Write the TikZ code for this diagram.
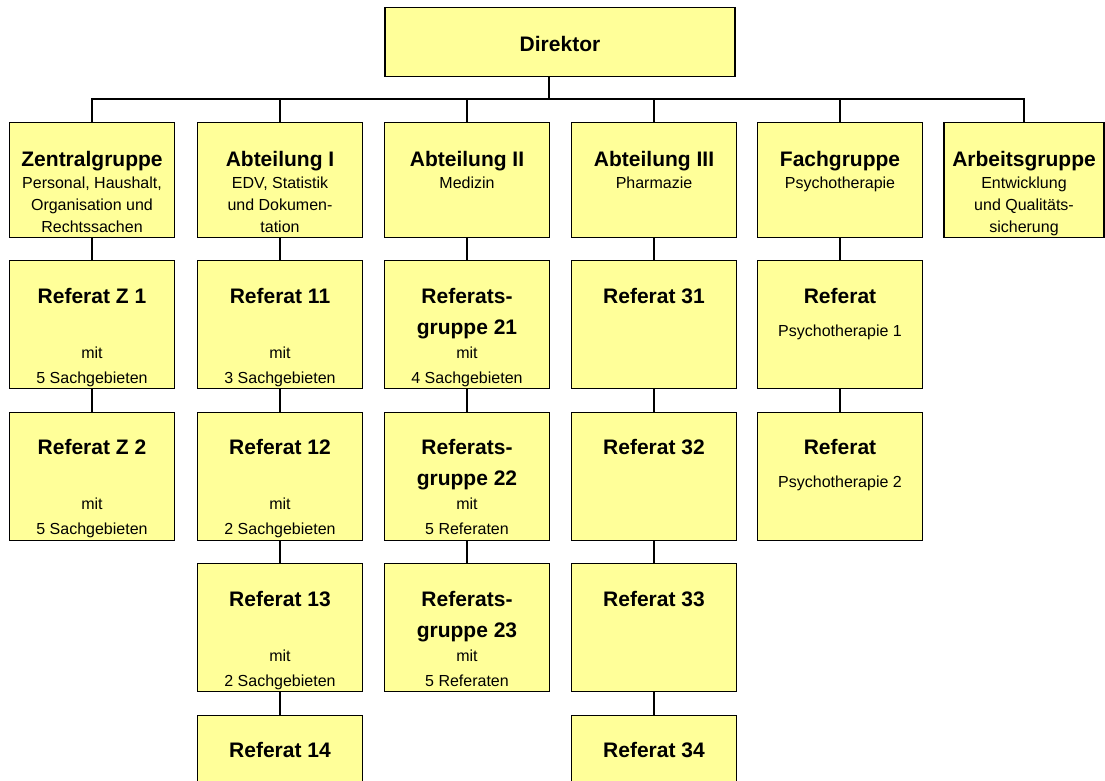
\documentclass[tikz,border=0pt]{standalone}
\usepackage{fontspec}
\setmainfont{Liberation Sans}
\definecolor{gelb}{RGB}{255,255,153}

\begin{document}
\begin{tikzpicture}[x=1pt,y=-1pt,
    unit/.style={draw=black, fill=gelb, line width=1.4pt, inner sep=0pt, anchor=north, minimum width=165pt, minimum height=128pt},
    topunit/.style={unit, minimum height=115pt},
    head/.style={font=\bfseries\fontsize{21}{24}\selectfont, anchor=base, inner sep=0pt},
    sub/.style={font=\fontsize{16}{18}\selectfont, anchor=base, inner sep=0pt},
    conn/.style={black, line width=1.4pt}]
    \useasboundingbox (0,0) rectangle (1105,780);
    \clip (0,0) rectangle (1105,780);

    % Leitung
    \node[unit, minimum width=350pt, minimum height=69pt] (dir) at (560,7) {};
    \node[head] (dir-1) at ([yshift=-44]dir.north) {Direktor};

    % erste Ebene
    \node[topunit] (zg) at (92,122) {};
    \node[head] (zg-1) at ([yshift=-44]zg.north) {Zentralgruppe};
    \node[sub] (zg-2) at ([yshift=-66]zg.north) {Personal, Haushalt,};
    \node[sub] (zg-3) at ([yshift=-88]zg.north) {Organisation und};
    \node[sub] (zg-4) at ([yshift=-110]zg.north) {Rechtssachen};

    \node[topunit] (a1) at (280,122) {};
    \node[head] (a1-1) at ([yshift=-44]a1.north) {Abteilung I};
    \node[sub] (a1-2) at ([yshift=-66]a1.north) {EDV, Statistik};
    \node[sub] (a1-3) at ([yshift=-88]a1.north) {und Dokumen-};
    \node[sub] (a1-4) at ([yshift=-110]a1.north) {tation};

    \node[topunit] (a2) at (467,122) {};
    \node[head] (a2-1) at ([yshift=-44]a2.north) {Abteilung II};
    \node[sub] (a2-2) at ([yshift=-66]a2.north) {Medizin};

    \node[topunit] (a3) at (654,122) {};
    \node[head] (a3-1) at ([yshift=-44]a3.north) {Abteilung III};
    \node[sub] (a3-2) at ([yshift=-66]a3.north) {Pharmazie};

    \node[topunit] (fg) at (840,122) {};
    \node[head] (fg-1) at ([yshift=-44]fg.north) {Fachgruppe};
    \node[sub] (fg-2) at ([yshift=-66]fg.north) {Psychotherapie};

    \node[topunit, minimum width=160pt] (ag) at (1024,122) {};
    \node[head] (ag-1) at ([yshift=-44]ag.north) {Arbeitsgruppe};
    \node[sub] (ag-2) at ([yshift=-66]ag.north) {Entwicklung};
    \node[sub] (ag-3) at ([yshift=-88]ag.north) {und Qualitäts-};
    \node[sub] (ag-4) at ([yshift=-110]ag.north) {sicherung};

    % Zentralgruppe
    \node[unit] (z1) at (92,260) {};
    \node[head] (z1-1) at ([yshift=-43]z1.north) {Referat Z 1};
    \node[sub] (z1-2) at ([yshift=-98]z1.north) {mit};
    \node[sub] (z1-3) at ([yshift=-123]z1.north) {5 Sachgebieten};

    \node[unit] (z2) at (92,411.5) {};
    \node[head] (z2-1) at ([yshift=-43]z2.north) {Referat Z 2};
    \node[sub] (z2-2) at ([yshift=-98]z2.north) {mit};
    \node[sub] (z2-3) at ([yshift=-123]z2.north) {5 Sachgebieten};

    % Abteilung I
    \node[unit] (r11) at (280,260) {};
    \node[head] (r11-1) at ([yshift=-43]r11.north) {Referat 11};
    \node[sub] (r11-2) at ([yshift=-98]r11.north) {mit};
    \node[sub] (r11-3) at ([yshift=-123]r11.north) {3 Sachgebieten};

    \node[unit] (r12) at (280,411.5) {};
    \node[head] (r12-1) at ([yshift=-43]r12.north) {Referat 12};
    \node[sub] (r12-2) at ([yshift=-98]r12.north) {mit};
    \node[sub] (r12-3) at ([yshift=-123]r12.north) {2 Sachgebieten};

    \node[unit] (r13) at (280,563) {};
    \node[head] (r13-1) at ([yshift=-43]r13.north) {Referat 13};
    \node[sub] (r13-2) at ([yshift=-98]r13.north) {mit};
    \node[sub] (r13-3) at ([yshift=-123]r13.north) {2 Sachgebieten};

    \node[unit] (r14) at (280,714.5) {};
    \node[head] (r14-1) at ([yshift=-43]r14.north) {Referat 14};

    % Abteilung II
    \node[unit] (rg21) at (467,260) {};
    \node[head] (rg21-1) at ([yshift=-43]rg21.north) {Referats-};
    \node[head] (rg21-2) at ([yshift=-74]rg21.north) {gruppe 21};
    \node[sub] (rg21-3) at ([yshift=-98]rg21.north) {mit};
    \node[sub] (rg21-4) at ([yshift=-123]rg21.north) {4 Sachgebieten};

    \node[unit] (rg22) at (467,411.5) {};
    \node[head] (rg22-1) at ([yshift=-43]rg22.north) {Referats-};
    \node[head] (rg22-2) at ([yshift=-74]rg22.north) {gruppe 22};
    \node[sub] (rg22-3) at ([yshift=-98]rg22.north) {mit};
    \node[sub] (rg22-4) at ([yshift=-123]rg22.north) {5 Referaten};

    \node[unit] (rg23) at (467,563) {};
    \node[head] (rg23-1) at ([yshift=-43]rg23.north) {Referats-};
    \node[head] (rg23-2) at ([yshift=-74]rg23.north) {gruppe 23};
    \node[sub] (rg23-3) at ([yshift=-98]rg23.north) {mit};
    \node[sub] (rg23-4) at ([yshift=-123]rg23.north) {5 Referaten};

    % Abteilung III
    \node[unit] (r31) at (654,260) {};
    \node[head] (r31-1) at ([yshift=-43]r31.north) {Referat 31};
    \node[unit] (r32) at (654,411.5) {};
    \node[head] (r32-1) at ([yshift=-43]r32.north) {Referat 32};
    \node[unit] (r33) at (654,563) {};
    \node[head] (r33-1) at ([yshift=-43]r33.north) {Referat 33};
    \node[unit] (r34) at (654,714.5) {};
    \node[head] (r34-1) at ([yshift=-43]r34.north) {Referat 34};

    % Fachgruppe
    \node[unit] (p1) at (840,260) {};
    \node[head] (p1-1) at ([yshift=-43]p1.north) {Referat};
    \node[sub] (p1-2) at ([yshift=-76]p1.north) {Psychotherapie 1};

    \node[unit] (p2) at (840,411.5) {};
    \node[head] (p2-1) at ([yshift=-43]p2.north) {Referat};
    \node[sub] (p2-2) at ([yshift=-76]p2.north) {Psychotherapie 2};

    % Verbindungen
    \coordinate (bar) at (549,99);
    \draw[conn] (dir.south -| bar) -- (bar);
    \foreach \n in {zg,a1,a2,a3,fg,ag}
        \draw[conn] (bar) -| (\n.north);

    \draw[conn] (zg.south) -- (z1.north);
    \draw[conn] (z1.south) -- (z2.north);
    \draw[conn] (a1.south) -- (r11.north);
    \draw[conn] (r11.south) -- (r12.north);
    \draw[conn] (r12.south) -- (r13.north);
    \draw[conn] (r13.south) -- (r14.north);
    \draw[conn] (a2.south) -- (rg21.north);
    \draw[conn] (rg21.south) -- (rg22.north);
    \draw[conn] (rg22.south) -- (rg23.north);
    \draw[conn] (a3.south) -- (r31.north);
    \draw[conn] (r31.south) -- (r32.north);
    \draw[conn] (r32.south) -- (r33.north);
    \draw[conn] (r33.south) -- (r34.north);
    \draw[conn] (fg.south) -- (p1.north);
    \draw[conn] (p1.south) -- (p2.north);
\end{tikzpicture}
\end{document}
